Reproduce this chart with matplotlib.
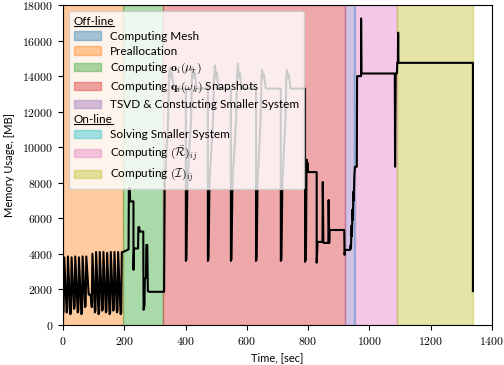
import numpy as np
import matplotlib
matplotlib.use('Agg')
import matplotlib.pyplot as plt
from matplotlib.patches import Patch
from matplotlib.lines import Line2D
from matplotlib.ticker import FuncFormatter
from matplotlib.transforms import Affine2D, IdentityTransform

plt.rcParams['mathtext.fontset'] = 'cm'
plt.rcParams['font.family'] = ['Lato', 'DejaVu Sans']

# phases: (label, start, end, colour)
phase_labels = ['Computing Mesh', 'Preallocation', r'Computing $\mathbf{o}_i(\mu_r)$',
                r'Computing $\mathbf{q}_i(\omega_k)$ Snapshots',
                'TSVD & Constucting Smaller System', 'Solving Smaller System',
                r'Computing $(\bar{\mathcal{R}})_{ij}$', r'Computing $(\mathcal{I})_{ij}$']
phase_start = [0, 1, 196, 328, 922, 951, 953, 1090]
phase_end = [1, 196, 328, 922, 951, 953, 1090, 1338]
phase_colors = ['tab:blue', 'tab:orange', 'tab:green', 'tab:red',
                'tab:purple', 'tab:cyan', 'tab:pink', 'tab:olive']

# memory trace, (time [s], memory [MB])
prealloc = [(0, 600), (2, 800), (4, 3800), (12, 700), (14, 900), (16, 3850),
            (24, 600), (26, 800), (28, 3800), (36, 900), (38, 1000), (40, 3850),
            (48, 700), (50, 800), (52, 3800), (60, 600), (62, 700), (64, 3850),
            (72, 1000), (74, 1100), (76, 3850), (84, 1700), (90, 1700), (94, 1000),
            (96, 4000), (104, 700), (106, 800), (108, 4100), (116, 600), (118, 700),
            (120, 4100), (128, 800), (130, 900), (132, 4100), (140, 700), (142, 800),
            (144, 4050), (152, 600), (154, 700), (156, 4100), (164, 800), (166, 900),
            (168, 4100), (176, 700), (178, 800), (180, 4100), (188, 600), (190, 700),
            (192, 4100), (196, 4100)]

oi_phase = [(208, 4200), (214, 4250), (215, 7700), (218, 7700), (219, 6950),
            (230, 6950), (230, 3100), (232, 4300), (245, 4300), (246, 5500),
            (249, 5500), (250, 5250), (262, 5250), (263, 850), (266, 1100),
            (267, 2630), (271, 2630), (272, 4500), (275, 4500), (277, 1900),
            (280, 1860), (329, 1860)]

snapshots = [(330, 1860), (332, 8000), (343, 11500), (346, 14000), (349, 14500),
             (352, 13900), (355, 14200), (362, 13300), (401, 13300),
             (401, 3600), (403, 3700), (406, 8000), (418, 11500), (421, 14000),
             (424, 14500), (427, 13900), (430, 14200), (436, 13300), (473, 13300),
             (473, 3600), (475, 3700), (478, 8000), (490, 11500), (493, 14000),
             (496, 14600), (499, 13900), (502, 14200), (508, 13300), (548, 13300),
             (548, 3600), (550, 3700), (553, 8000), (565, 11500), (568, 14000),
             (571, 14700), (574, 13900), (577, 14200), (583, 13300), (630, 13300),
             (630, 3600), (632, 3700), (635, 8000), (645, 11500), (648, 14000),
             (650, 14350), (653, 13900), (656, 14100), (662, 13300), (711, 13300),
             (711, 3600), (713, 3700), (716, 8000), (726, 11500), (729, 14000),
             (731, 14350), (734, 13900), (737, 14100), (743, 13300), (790, 13300)]

tail = [(790, 3550), (793, 3700), (795, 9300), (797, 8900), (799, 9100),
        (800, 8600), (828, 8600), (828, 3500), (831, 4670), (847, 4670),
        (848, 8040), (850, 4610), (866, 4610), (867, 7030), (869, 4610),
        (870, 5340), (918, 5340), (919, 3940), (921, 4220), (937, 4220),
        (939, 4500), (940, 4300), (942, 5600), (943, 5000), (945, 6500),
        (946, 5900), (948, 7500), (949, 7000), (951, 8400), (953, 8900),
        (959, 8900)]

rom_phase = [(960, 14000), (973, 14000), (973, 17250), (974, 14150), (1083, 14150),
             (1084, 8900), (1086, 14150), (1090, 14150), (1091, 14750), (1093, 14750),
             (1094, 16450), (1095, 14750), (1338, 14750), (1338, 1900)]

trace = np.array(prealloc + oi_phase + snapshots + tail + rom_phase)

fig = plt.figure(figsize=(5.04, 3.65), dpi=100)
ax = fig.add_axes([0.125, 0.11, 0.851, 0.876])

handles = []
for lab, a, b, c in zip(phase_labels, phase_start, phase_end, phase_colors):
    ax.axvspan(a, b, color=c, alpha=0.4)
    handles.append(Patch(color=c, alpha=0.4, label=lab))

ax.plot(trace[:, 0], trace[:, 1], color='black', lw=1.5)

ax.set_xlim(0, 1400)
ax.set_ylim(0, 18000)
ax.set_xticks(np.arange(0, 1401, 200))
ax.set_yticks(np.arange(0, 18001, 2000))
fmt = FuncFormatter(lambda v, p: r'$%d$' % v)
ax.xaxis.set_major_formatter(fmt)
ax.yaxis.set_major_formatter(fmt)
ax.tick_params(labelsize=8.5)
ax.set_xlabel('Time, [sec]', fontsize=8)
ax.set_ylabel('Memory Usage, [MB]', fontsize=8, labelpad=5)

blank = Patch(facecolor='none', edgecolor='none')
blank2 = Patch(facecolor='none', edgecolor='none')
leg_handles = [blank] + handles[:5] + [blank2] + handles[5:]
leg_labels = ['Off-line'] + phase_labels[:5] + ['On-line'] + phase_labels[5:]
leg = ax.legend(leg_handles, leg_labels, loc='upper left', fontsize=8.5,
                handlelength=2.3, labelspacing=0.34)

# left-align the two headers and underline them
fig.canvas.draw()
fs = 8.5 * fig.dpi / 72
dx = (2.3 + 0.8) * fs
for t in leg.get_texts():
    if t.get_text() in ('Off-line', 'On-line'):
        t.set_transform(t.get_transform() + Affine2D().translate(-dx, 0))
fig.canvas.draw()
r = fig.canvas.get_renderer()
for t in leg.get_texts():
    if t.get_text() in ('Off-line', 'On-line'):
        bb = t.get_window_extent(r)
        fig.add_artist(Line2D([bb.x0, bb.x1], [bb.y0 + 1.0, bb.y0 + 1.0],
                              transform=IdentityTransform(), color='black', lw=0.8))

fig.savefig('out.png', dpi=100)
